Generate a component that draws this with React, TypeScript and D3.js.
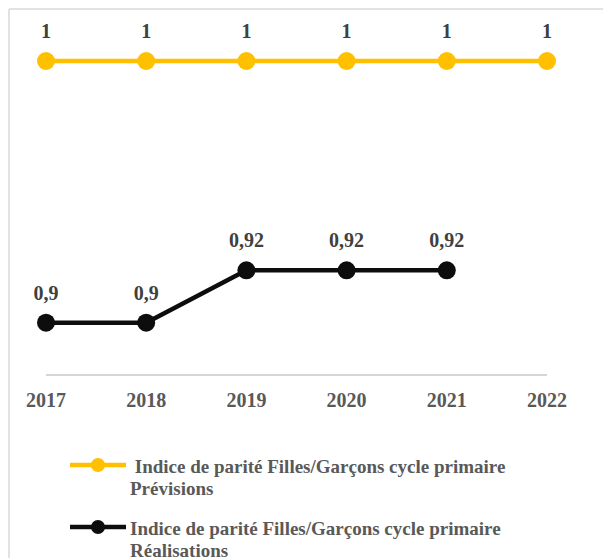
import React from "react";
import * as d3 from "d3";

const years = ["2017", "2018", "2019", "2020", "2021", "2022"];
const previsions = [1, 1, 1, 1, 1, 1];
const realisations: (number | null)[] = [0.9, 0.9, 0.92, 0.92, 0.92, null];
const previsionsLabels = ["1", "1", "1", "1", "1", "1"];
const realisationsLabels = ["0,9", "0,9", "0,92", "0,92", "0,92", ""];
const legendLines = [
  [" Indice de parité Filles/Garçons cycle primaire", "Prévisions"],
  ["Indice de parité Filles/Garçons cycle primaire", "Réalisations"],
];

const W = 603;
const H = 558;
const FONT = "'Liberation Serif', 'Times New Roman', serif";
const YELLOW = "#FFC000";
const BLACK = "#0D0D0D";

export default function App() {
  const x = d3.scalePoint<string>().domain(years).range([46, 547]);
  const y = d3.scaleLinear().domain([0.88, 1.0]).range([375, 61]);

  const line = d3
    .line<number | null>()
    .defined((d) => d !== null)
    .x((_, i) => x(years[i]) as number)
    .y((d) => y(d as number));

  const series = [
    { values: previsions as (number | null)[], labels: previsionsLabels, color: YELLOW },
    { values: realisations, labels: realisationsLabels, color: BLACK },
  ];

  const legendY = [465, 527];
  const legendColors = [YELLOW, BLACK];

  return (
    <svg
      width={W}
      height={H}
      style={{ position: "absolute", left: 0, top: 0, background: "#fff" }}
      fontFamily={FONT}
    >
      <rect x={0} y={0} width={W} height={H} fill="#fff" />
      <line x1={9} y1={9} x2={W} y2={9} stroke="#d9d9d9" strokeWidth={1.5} />
      <line x1={9} y1={9} x2={9} y2={H} stroke="#d9d9d9" strokeWidth={1.5} />

      <line
        x1={x(years[0])}
        x2={x(years[years.length - 1])}
        y1={y(0.88)}
        y2={y(0.88)}
        stroke="#c8c8c8"
        strokeWidth={1.5}
      />
      {years.map((yr) => (
        <text
          key={yr}
          x={x(yr)}
          y={407}
          textAnchor="middle"
          fontWeight="bold"
          fontSize={20}
          fill="#595959"
        >
          {yr}
        </text>
      ))}

      {series.map((s, si) => (
        <g key={si}>
          <path d={line(s.values) || ""} fill="none" stroke={s.color} strokeWidth={4.5} />
          {s.values.map((v, i) =>
            v === null ? null : (
              <g key={i}>
                <circle cx={x(years[i])} cy={y(v)} r={9} fill={s.color} />
                <text
                  x={x(years[i])}
                  y={y(v) - 23}
                  textAnchor="middle"
                  fontWeight="bold"
                  fontSize={20}
                  fill="#404040"
                >
                  {s.labels[i]}
                </text>
              </g>
            )
          )}
        </g>
      ))}

      {legendLines.map((lines, li) => (
        <g key={li}>
          <line x1={70} x2={126} y1={legendY[li]} y2={legendY[li]} stroke={legendColors[li]} strokeWidth={4.5} />
          <circle cx={98} cy={legendY[li]} r={7} fill={legendColors[li]} />
          {lines.map((t, k) => (
            <text
              key={k}
              x={130}
              y={legendY[li] + 8 + k * 22}
              fontWeight="bold"
              fontSize={19}
              fill="#595959"
              style={{ whiteSpace: "pre" }}
            >
              {t}
            </text>
          ))}
        </g>
      ))}
    </svg>
  );
}
